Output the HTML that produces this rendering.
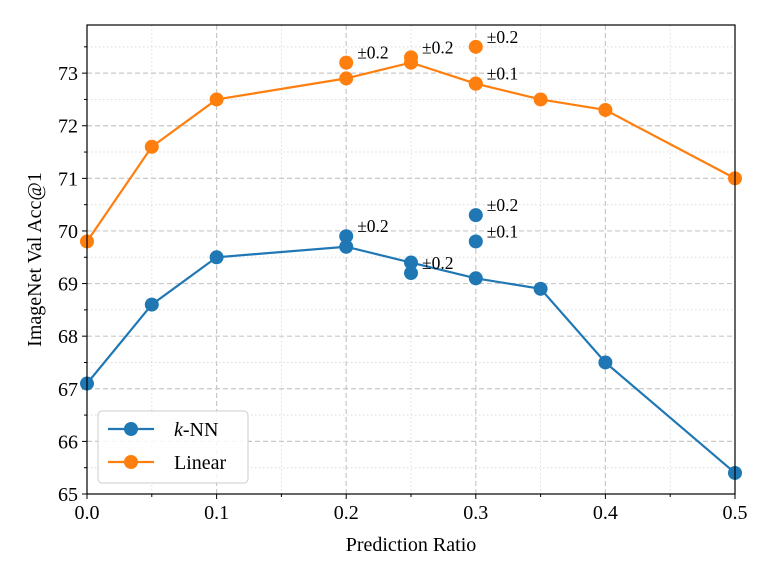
<!DOCTYPE html>
<html><head><meta charset="utf-8"><style>
body{margin:0;background:#fff}
svg{display:block;font-family:"Liberation Serif","DejaVu Serif",serif}
</style></head><body>
<svg id="chart" width="774" height="581"></svg>
<script>
const ratios=[0,0.05,0.1,0.2,0.25,0.3,0.35,0.4,0.5];
const knnAcc=[67.1,68.6,69.5,69.7,69.4,69.1,68.9,67.5,65.4];
const linAcc=[69.8,71.6,72.5,72.9,73.2,72.8,72.5,72.3,71.0];
const knnExtraX=[0.2,0.25,0.3,0.3];
const knnExtraY=[69.9,69.2,70.3,69.8];
const knnExtraLbl=["±0.2","±0.2","±0.2","±0.1"];
const linExtraX=[0.2,0.25,0.3,0.3];
const linExtraY=[73.2,73.3,73.5,72.8];
const linExtraLbl=["±0.2","±0.2","±0.2","±0.1"];
const xTicks=[0,0.1,0.2,0.3,0.4,0.5];
const xTickLbl=["0.0","0.1","0.2","0.3","0.4","0.5"];
const yTicks=[65,66,67,68,69,70,71,72,73];

const L=87,R=735,T=25,B=494,ymin=65,ymax=73.915;
const sx=v=>L+(v-0)/(0.5)*(R-L);
const sy=v=>B-(v-ymin)/(ymax-ymin)*(B-T);
const svg=document.getElementById('chart');
const NS="http://www.w3.org/2000/svg";
function mk(tag,a,p){const e=document.createElementNS(NS,tag);for(const k in a)e.setAttribute(k,a[k]);(p||svg).appendChild(e);return e;}
const g=mk('g',{});


for(let i=1;i<10;i++){const v=i*0.05;const x=sx(v);const maj=i%2==0;
 mk('line',{x1:x,x2:x,y1:T,y2:B,stroke:maj?'#c8c8c8':'#dcdcdc','stroke-width':maj?1.2:1,'stroke-dasharray':maj?'5,3':'1.5,2.5'},g);
 mk('line',{x1:x,x2:x,y1:B,y2:B+(maj?5:3),stroke:'#000','stroke-width':1});}
for(let v=65.5;v<73.9;v+=0.5){const y=sy(v);const maj=Math.abs(v-Math.round(v))<0.01;
 mk('line',{x1:L,x2:R,y1:y,y2:y,stroke:maj?'#c8c8c8':'#dcdcdc','stroke-width':maj?1.2:1,'stroke-dasharray':maj?'5,3':'1.5,2.5'},g);
 mk('line',{x1:L-(maj?5:3),x2:L,y1:y,y2:y,stroke:'#000','stroke-width':1});}
mk('line',{x1:L-5,x2:L,y1:B,y2:B,stroke:'#000'});
mk('line',{x1:L,x2:L,y1:B,y2:B+5,stroke:'#000'});
mk('line',{x1:R,x2:R,y1:B,y2:B+5,stroke:'#000'});
xTicks.forEach((v,i)=>{const t=mk('text',{x:sx(v),y:B+25,'text-anchor':'middle','font-size':20});t.textContent=xTickLbl[i];
 });
yTicks.forEach(v=>{const t=mk('text',{x:L-9,y:sy(v)+7,'text-anchor':'end','font-size':20});t.textContent=v;
 });
function series(xs,ys,col,name){
 const p=mk('polyline',{points:xs.map((x,i)=>sx(x)+','+sy(ys[i])).join(' '),fill:'none',stroke:col,'stroke-width':2.2});
 
 xs.forEach((x,i)=>{const c=mk('circle',{cx:sx(x),cy:sy(ys[i]),r:7,fill:col});
  });
}
function extras(xs,ys,lbl,col,name){
 xs.forEach((x,i)=>{const c=mk('circle',{cx:sx(x),cy:sy(ys[i]),r:7,fill:col});
  
  const t=mk('text',{x:sx(x)+11,y:sy(ys[i])-4,'font-size':17.5});t.textContent=lbl[i];
  });
}
series(ratios,knnAcc,'#1f77b4','knn');
series(ratios,linAcc,'#ff7f0e','linear');
extras(knnExtraX,knnExtraY,knnExtraLbl,'#1f77b4','knn');
extras(linExtraX,linExtraY,linExtraLbl,'#ff7f0e','linear');
mk('rect',{x:L,y:T,width:R-L,height:B-T,fill:'none',stroke:'#000','stroke-width':1.2});
const xt=mk('text',{x:(L+R)/2,y:551,'text-anchor':'middle','font-size':20});xt.textContent='Prediction Ratio';

const yt=mk('text',{x:0,y:0,'text-anchor':'middle','font-size':20,transform:'translate(41,'+((T+B)/2)+') rotate(-90)'});yt.textContent='ImageNet Val Acc@1';

const lg=mk('g',{});


mk('rect',{x:98,y:411,width:150,height:72,rx:4,fill:'#fff','fill-opacity':0.85,stroke:'#ccc'},lg);
[['#1f77b4','k','-NN',429],['#ff7f0e','Linear','',462]].forEach(([c,a,b,y])=>{
 mk('line',{x1:108,x2:154,y1:y,y2:y,stroke:c,'stroke-width':2.2},lg);
 mk('circle',{cx:131,cy:y,r:7,fill:c},lg);
 const t=mk('text',{x:174,y:y+7,'font-size':20},lg);
 if(b){const ts=mk('tspan',{'font-style':'italic'},t);ts.textContent=a;const t2=mk('tspan',{},t);t2.textContent=b;}else t.textContent=a;
 
});
</script>
</body></html>
